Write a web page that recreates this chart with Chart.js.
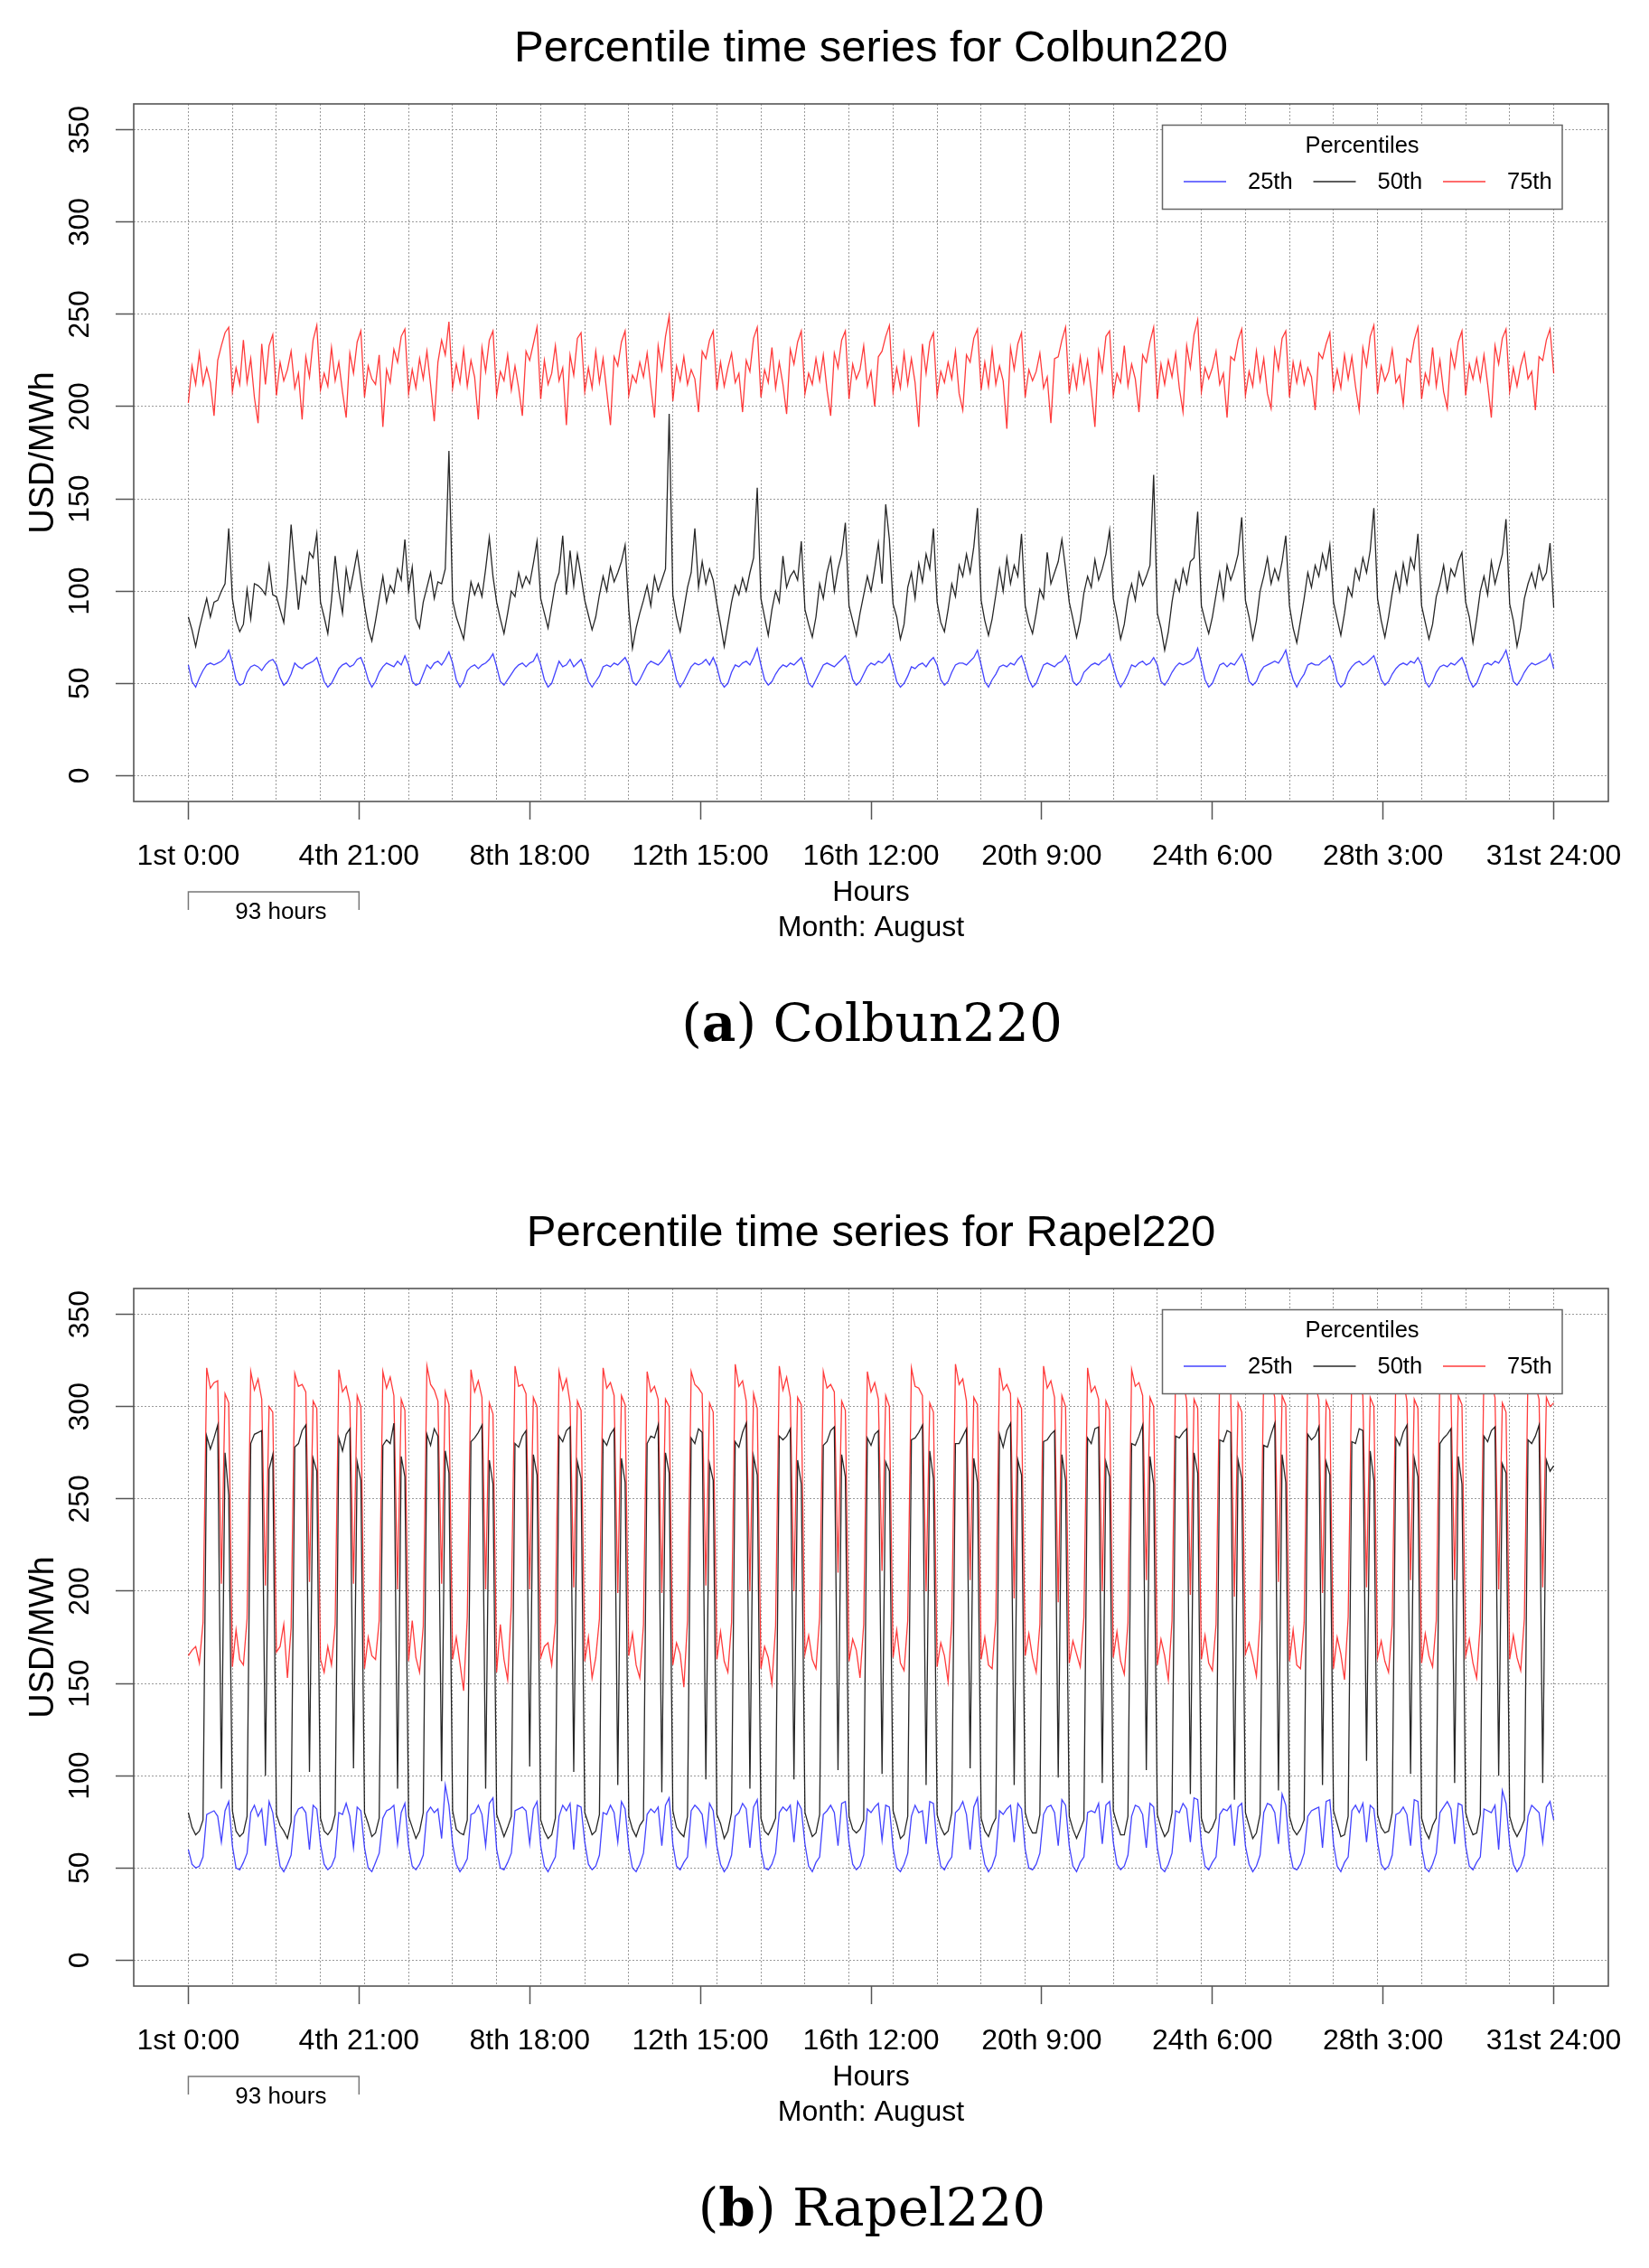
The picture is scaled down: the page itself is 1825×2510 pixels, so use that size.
<!DOCTYPE html>
<html>
<head>
<meta charset="utf-8">
<script src="https://cdn.jsdelivr.net/npm/chart.js@4.4.0/dist/chart.umd.min.js"></script>
<style>
  body { margin: 0; background: #fff; width: 1825px; height: 2510px; position: relative; overflow: hidden; }
  canvas { position: absolute; left: 0; }
  .cap { position: absolute; left: 0; width: 1930px; text-align: center; font-family: "DejaVu Serif"; font-size: 58px; line-height: 70px; color: #000; }
</style>
</head>
<body>
<canvas id="colbun" width="1825" height="1100" style="top:0px"></canvas>
<div class="cap" style="top:1097px">(<b>a</b>) Colbun220</div>
<canvas id="rapel" width="1825" height="1100" style="top:1311px"></canvas>
<div class="cap" style="top:2408px">(<b>b</b>) Rapel220</div>
<script>
// x axis: ticks every 93 hours, labels as in the original R plot
const tickHours = [0, 93, 186, 279, 372, 465, 558, 651, 744];
const tickLabels = ['1st 0:00', '4th 21:00', '8th 18:00', '12th 15:00', '16th 12:00',
  '20th 9:00', '24th 6:00', '28th 3:00', '31st 24:00'];
const yTicks = [0, 50, 100, 150, 200, 250, 300, 350];

// one value every 2 hours, one row per day (0h..22h), last value = 31st 24:00
const colbunP25 = [
  60, 51, 48, 53, 57, 60, 61, 60, 61, 62, 64, 68,
  61, 52, 49, 50, 56, 59, 60, 59, 57, 60, 62, 63,
  60, 53, 49, 51, 55, 61, 59, 58, 60, 61, 62, 64,
  58, 51, 48, 50, 54, 58, 60, 61, 59, 60, 63, 64,
  59, 52, 48, 51, 56, 59, 61, 60, 59, 62, 60, 65,
  60, 51, 49, 50, 55, 60, 58, 61, 62, 60, 63, 67,
  61, 52, 48, 51, 57, 59, 60, 58, 60, 61, 63, 66,
  59, 51, 49, 52, 55, 58, 60, 61, 59, 61, 62, 66,
  60, 52, 48, 50, 56, 62, 59, 60, 63, 59, 61, 63,
  58, 51, 48, 51, 54, 59, 60, 59, 61, 60, 62, 64,
  60, 51, 49, 52, 56, 60, 62, 61, 60, 62, 65, 68,
  61, 52, 48, 51, 55, 59, 61, 60, 61, 63, 60, 64,
  59, 51, 48, 50, 56, 60, 59, 61, 62, 60, 64, 69,
  60, 52, 49, 51, 55, 58, 60, 59, 61, 60, 62, 64,
  58, 50, 48, 52, 56, 60, 61, 60, 59, 61, 63, 65,
  60, 52, 49, 51, 55, 59, 61, 60, 62, 61, 63, 66,
  59, 51, 48, 50, 54, 59, 58, 60, 61, 59, 62, 64,
  60, 52, 49, 51, 56, 60, 61, 61, 60, 62, 64, 68,
  60, 51, 48, 52, 55, 59, 60, 59, 61, 60, 63, 65,
  59, 52, 48, 50, 55, 60, 61, 60, 59, 61, 62, 65,
  60, 51, 49, 51, 56, 58, 60, 61, 60, 62, 63, 66,
  59, 52, 48, 51, 55, 60, 59, 61, 62, 60, 61, 64,
  60, 51, 49, 52, 56, 59, 61, 60, 61, 62, 64, 69,
  61, 52, 48, 50, 55, 60, 61, 59, 61, 60, 63, 66,
  60, 51, 49, 51, 56, 59, 60, 61, 62, 61, 64, 68,
  59, 52, 48, 52, 55, 60, 61, 60, 60, 62, 63, 65,
  60, 51, 48, 50, 56, 59, 61, 62, 60, 61, 63, 65,
  59, 52, 49, 51, 55, 58, 60, 61, 60, 62, 61, 64,
  60, 51, 48, 51, 56, 59, 60, 59, 61, 60, 62, 64,
  59, 52, 48, 50, 55, 60, 61, 60, 62, 61, 64, 68,
  60, 51, 49, 52, 56, 59, 61, 60, 61, 62, 63, 66,
  58
];
const colbunP50 = [
  86, 79, 70, 80, 88, 96, 86, 94, 95, 100, 104, 134,
  96, 84, 78, 82, 101, 85, 104, 103, 101, 98, 114, 98,
  97, 90, 83, 104, 136, 112, 90, 108, 104, 121, 118, 131,
  94, 86, 77, 95, 119, 100, 88, 112, 100, 110, 121, 106,
  92, 80, 73, 84, 96, 108, 94, 103, 99, 112, 106, 128,
  100, 113, 85, 80, 94, 102, 110, 96, 105, 104, 112, 176,
  95, 86, 80, 74, 90, 105, 98, 104, 97, 112, 129, 108,
  94, 85, 77, 88, 100, 97, 110, 102, 108, 104, 115, 127,
  96, 88, 80, 92, 104, 110, 130, 98, 122, 103, 120, 108,
  95, 87, 79, 86, 98, 108, 100, 113, 105, 110, 116, 125,
  90, 69, 80, 88, 95, 103, 92, 108, 100, 106, 112, 196,
  98, 86, 78, 90, 102, 110, 134, 102, 116, 104, 112, 106,
  93, 82, 70, 82, 94, 103, 98, 107, 100, 110, 118, 156,
  96, 86, 76, 90, 100, 94, 119, 102, 108, 111, 106, 127,
  90, 82, 75, 86, 104, 96, 110, 118, 100, 112, 120, 137,
  92, 84, 76, 88, 98, 108, 100, 112, 126, 104, 147, 128,
  93, 86, 74, 82, 102, 110, 96, 115, 105, 120, 112, 134,
  94, 83, 78, 90, 104, 97, 114, 108, 120, 110, 124, 145,
  95, 84, 76, 85, 98, 112, 100, 118, 104, 114, 108, 131,
  92, 83, 77, 88, 101, 96, 121, 104, 110, 116, 128, 112,
  94, 85, 75, 84, 99, 108, 102, 117, 106, 112, 120, 133,
  96, 86, 74, 82, 96, 104, 95, 110, 103, 108, 114, 163,
  88, 80, 68, 78, 94, 106, 100, 112, 104, 116, 118, 143,
  92, 84, 77, 86, 98, 110, 96, 114, 106, 112, 120, 140,
  95, 86, 74, 84, 100, 108, 118, 104, 112, 106, 116, 130,
  92, 80, 72, 84, 96, 110, 102, 114, 108, 120, 112, 125,
  94, 85, 76, 88, 102, 97, 112, 106, 118, 110, 122, 145,
  96, 84, 75, 86, 99, 110, 100, 115, 104, 118, 112, 131,
  92, 83, 74, 82, 97, 104, 114, 100, 112, 108, 116, 121,
  94, 86, 72, 85, 100, 108, 98, 116, 104, 112, 120, 139,
  93, 84, 70, 80, 96, 104, 110, 102, 114, 106, 110, 126,
  91
];
const colbunP75 = [
  202, 222, 212, 229, 212, 221, 213, 195, 225, 233, 240, 243,
  208, 221, 212, 236, 213, 226, 205, 191, 234, 212, 233, 239,
  206, 224, 214, 220, 230, 210, 218, 193, 227, 216, 236, 244,
  209, 218, 211, 232, 214, 224, 208, 194, 229, 218, 235, 241,
  205, 222, 215, 212, 228, 189, 220, 213, 231, 224, 238, 242,
  207, 220, 210, 226, 215, 230, 212, 192, 224, 236, 228, 246,
  210, 223, 213, 231, 211, 225, 216, 193, 232, 219, 236, 241,
  206, 219, 214, 228, 209, 222, 210, 195, 230, 225, 234, 243,
  204, 225, 212, 218, 233, 214, 221, 190, 228, 217, 237, 240,
  208, 221, 210, 230, 213, 226, 208, 190, 227, 222, 235, 241,
  206, 217, 213, 224, 216, 229, 211, 194, 233, 220, 238, 249,
  203, 222, 214, 227, 212, 220, 215, 197, 230, 226, 236, 241,
  209, 224, 211, 221, 229, 213, 218, 197, 225, 219, 237, 243,
  205, 220, 213, 232, 210, 224, 212, 196, 231, 223, 235, 241,
  207, 218, 212, 226, 214, 228, 209, 195, 229, 221, 236, 241,
  204, 223, 215, 220, 233, 211, 219, 200, 227, 230, 238, 244,
  208, 221, 210, 229, 212, 226, 213, 189, 234, 218, 235, 240,
  206, 219, 213, 224, 215, 230, 207, 198, 228, 224, 237, 242,
  209, 224, 211, 231, 212, 222, 214, 188, 232, 220, 234, 240,
  205, 220, 214, 219, 229, 210, 216, 191, 226, 227, 236, 243,
  207, 222, 210, 227, 213, 225, 209, 189, 230, 219, 238, 241,
  206, 218, 213, 233, 211, 223, 215, 197, 228, 224, 235, 243,
  204, 223, 212, 225, 216, 229, 210, 197, 233, 221, 239, 247,
  208, 221, 215, 221, 230, 212, 218, 194, 227, 225, 236, 242,
  206, 219, 211, 230, 214, 226, 207, 199, 231, 220, 237, 241,
  205, 224, 213, 224, 212, 221, 216, 198, 229, 226, 234, 240,
  209, 220, 210, 228, 215, 227, 211, 198, 232, 222, 238, 244,
  207, 222, 214, 219, 231, 213, 217, 201, 226, 224, 236, 243,
  204, 218, 212, 232, 211, 225, 208, 199, 230, 221, 235, 241,
  206, 223, 215, 226, 214, 228, 212, 194, 233, 223, 237, 242,
  208, 221, 211, 222, 229, 215, 219, 198, 227, 225, 236, 242,
  218
];
const rapelP25 = [
  60, 52, 50, 51, 56, 79, 80, 81, 78, 64, 81, 86,
  62, 50, 49, 53, 58, 80, 84, 78, 82, 62, 86, 80,
  64, 51, 48, 52, 57, 78, 82, 83, 80, 60, 84, 82,
  63, 52, 49, 51, 56, 80, 79, 85, 78, 61, 83, 81,
  61, 50, 48, 53, 58, 77, 81, 82, 84, 63, 80, 85,
  62, 51, 49, 52, 57, 80, 83, 80, 82, 66, 95, 84,
  63, 52, 48, 51, 55, 79, 80, 84, 79, 62, 85, 88,
  60, 50, 49, 53, 58, 81, 82, 83, 81, 63, 82, 86,
  62, 51, 48, 52, 56, 78, 84, 81, 85, 60, 84, 83,
  64, 52, 49, 51, 57, 80, 79, 84, 80, 64, 86, 82,
  61, 50, 48, 52, 58, 79, 82, 80, 83, 62, 84, 88,
  63, 51, 49, 53, 56, 81, 84, 82, 79, 63, 85, 81,
  62, 52, 48, 51, 57, 78, 80, 85, 82, 61, 83, 87,
  60, 50, 49, 52, 58, 80, 83, 81, 84, 64, 86, 82,
  63, 51, 48, 53, 56, 79, 81, 84, 80, 62, 85, 86,
  64, 52, 49, 51, 57, 82, 80, 83, 85, 65, 84, 83,
  61, 50, 48, 52, 58, 78, 84, 80, 81, 63, 86, 85,
  62, 51, 49, 53, 56, 80, 82, 86, 79, 60, 83, 88,
  63, 52, 48, 51, 57, 81, 79, 82, 84, 64, 85, 82,
  60, 50, 49, 52, 58, 79, 83, 84, 80, 62, 87, 84,
  62, 51, 48, 53, 56, 80, 81, 80, 85, 63, 84, 86,
  64, 52, 49, 51, 57, 78, 84, 83, 79, 61, 85, 83,
  61, 50, 48, 52, 58, 81, 80, 85, 82, 64, 88, 87,
  63, 51, 49, 53, 56, 79, 82, 81, 84, 62, 83, 85,
  62, 52, 48, 51, 57, 80, 85, 84, 80, 63, 90, 84,
  60, 50, 49, 52, 58, 78, 81, 82, 83, 61, 86, 87,
  63, 51, 48, 53, 56, 81, 84, 80, 85, 64, 84, 82,
  64, 52, 49, 51, 57, 79, 80, 83, 79, 62, 87, 86,
  61, 50, 48, 52, 58, 80, 83, 86, 82, 63, 85, 84,
  62, 51, 49, 53, 56, 82, 81, 80, 84, 60, 92, 85,
  63, 52, 48, 51, 57, 78, 84, 82, 80, 64, 83, 86,
  76
];
const rapelP50 = [
  80, 72, 68, 70, 76, 284, 277, 283, 290, 93, 275, 252,
  81, 70, 67, 69, 78, 280, 285, 286, 287, 100, 266, 274,
  79, 73, 70, 66, 75, 278, 280, 287, 290, 102, 272, 265,
  77, 70, 68, 71, 79, 283, 276, 285, 288, 104, 270, 260,
  80, 74, 67, 69, 77, 279, 282, 280, 291, 93, 273, 262,
  78, 72, 66, 70, 80, 285, 279, 288, 284, 97, 276, 264,
  81, 71, 69, 68, 76, 281, 283, 286, 290, 93, 271, 258,
  79, 73, 67, 72, 78, 280, 278, 284, 287, 105, 274, 263,
  76, 70, 66, 68, 77, 284, 281, 287, 289, 102, 270, 261,
  80, 74, 68, 70, 79, 282, 279, 285, 288, 95, 272, 259,
  78, 71, 67, 73, 76, 280, 284, 283, 290, 91, 275, 264,
  81, 72, 69, 67, 78, 283, 280, 288, 286, 98, 269, 260,
  79, 74, 66, 70, 80, 281, 278, 286, 291, 93, 273, 263,
  77, 70, 68, 72, 77, 284, 282, 284, 288, 98, 271, 258,
  80, 73, 67, 69, 79, 279, 281, 287, 289, 103, 274, 262,
  78, 71, 69, 71, 76, 283, 279, 285, 287, 101, 270, 265,
  81, 74, 66, 68, 78, 282, 283, 286, 290, 95, 276, 261,
  79, 72, 68, 70, 80, 280, 280, 284, 288, 104, 272, 259,
  77, 70, 67, 73, 77, 285, 278, 287, 291, 95, 271, 263,
  80, 73, 69, 69, 79, 281, 282, 285, 287, 99, 274, 260,
  78, 71, 66, 71, 76, 283, 280, 288, 289, 96, 270, 262,
  81, 74, 68, 68, 78, 280, 279, 284, 290, 103, 273, 258,
  79, 72, 67, 70, 80, 284, 283, 286, 288, 90, 275, 264,
  77, 70, 69, 72, 77, 282, 281, 287, 286, 87, 271, 261,
  80, 73, 66, 69, 79, 279, 278, 285, 291, 92, 274, 259,
  78, 71, 68, 71, 76, 285, 282, 284, 289, 95, 270, 263,
  81, 74, 67, 68, 78, 281, 280, 288, 287, 108, 276, 260,
  79, 72, 69, 70, 80, 283, 279, 286, 290, 101, 272, 262,
  77, 70, 66, 73, 77, 280, 283, 285, 288, 96, 273, 258,
  80, 73, 68, 69, 79, 284, 281, 287, 289, 100, 269, 264,
  78, 71, 67, 71, 76, 282, 280, 284, 290, 96, 271, 265,
  268
];
const rapelP75 = [
  165, 168, 170, 161, 183, 321, 310, 313, 314, 204, 307, 302,
  159, 179, 163, 160, 185, 319, 309, 315, 304, 203, 300, 297,
  167, 170, 182, 153, 180, 318, 311, 312, 308, 205, 303, 299,
  163, 156, 170, 160, 182, 320, 308, 311, 302, 204, 306, 300,
  158, 175, 165, 163, 184, 319, 310, 316, 306, 201, 304, 298,
  162, 184, 164, 156, 181, 322, 312, 309, 303, 204, 308, 301,
  163, 175, 161, 146, 186, 320, 308, 314, 305, 201, 302, 296,
  156, 182, 163, 152, 192, 322, 311, 312, 307, 201, 305, 300,
  164, 170, 172, 160, 183, 319, 309, 315, 302, 202, 303, 298,
  162, 175, 153, 164, 185, 321, 310, 313, 306, 199, 306, 301,
  165, 177, 160, 153, 182, 319, 308, 311, 304, 199, 304, 300,
  160, 172, 166, 148, 184, 319, 312, 310, 307, 203, 302, 297,
  163, 178, 162, 156, 183, 323, 311, 314, 303, 200, 307, 299,
  158, 170, 164, 150, 181, 322, 309, 316, 305, 200, 305, 301,
  166, 176, 163, 158, 186, 319, 310, 312, 308, 210, 303, 298,
  162, 174, 168, 153, 182, 319, 308, 313, 304, 211, 306, 300,
  164, 179, 161, 157, 184, 321, 311, 310, 306, 200, 302, 297,
  159, 172, 165, 151, 183, 323, 312, 315, 303, 206, 305, 301,
  163, 175, 160, 158, 185, 321, 309, 312, 307, 196, 304, 299,
  165, 177, 164, 156, 182, 322, 310, 314, 305, 194, 306, 300,
  161, 173, 166, 159, 186, 321, 308, 311, 304, 200, 303, 298,
  164, 178, 162, 155, 183, 320, 311, 313, 306, 206, 305, 300,
  160, 174, 165, 152, 184, 322, 309, 315, 303, 198, 304, 299,
  163, 176, 161, 157, 182, 321, 312, 310, 307, 197, 302, 297,
  166, 172, 164, 154, 185, 320, 310, 314, 305, 205, 306, 301,
  162, 179, 160, 158, 183, 321, 308, 312, 304, 199, 303, 298,
  158, 175, 166, 152, 186, 322, 311, 313, 306, 202, 305, 300,
  164, 173, 162, 156, 182, 320, 309, 315, 303, 206, 304, 299,
  161, 177, 165, 159, 184, 321, 312, 311, 307, 206, 306, 301,
  165, 174, 161, 153, 183, 322, 310, 313, 305, 201, 302, 297,
  163, 176, 164, 157, 185, 320, 309, 312, 304, 202, 305, 300,
  302
];

const BLUE = 'rgba(20, 20, 255, 0.8)';
const BLACK = 'rgba(0, 0, 0, 0.85)';
const RED = 'rgba(255, 10, 10, 0.8)';
const GRID = '#9a9a9a';
const FONT = '"Liberation Sans", Arial, sans-serif';

// hour of each sample (every 2 hours)
const hours = colbunP25.map((v, i) => i * 2);
const dayLines = [];
for (let h = 0; h <= 744; h += 24) dayLines.push(h);

const X_MIN = -29.76, X_MAX = 773.76; // R pads the range by 4%
const Y_MIN = -14, Y_MAX = 364;

// draws what R adds around the plot: title, rotated y labels, legend, box, bracket
const rDecor = {
  id: 'rDecor',
  afterDatasetsDraw(chart) {
    const ctx = chart.ctx;
    const ca = chart.chartArea;
    // legend box (opaque, over the lines)
    const L = ca.right - 493.5, T = ca.top + 23.5;
    ctx.save();
    ctx.fillStyle = '#fff';
    ctx.fillRect(L, T, 442.5, 93);
    ctx.strokeStyle = '#666';
    ctx.lineWidth = 1.5;
    ctx.strokeRect(L, T, 442.5, 93);
    ctx.fillStyle = '#000';
    ctx.font = '25.5px ' + FONT;
    ctx.textAlign = 'center';
    ctx.textBaseline = 'middle';
    ctx.fillText('Percentiles', L + 221, T + 23);
    const entries = [['25th', BLUE], ['50th', BLACK], ['75th', RED]];
    entries.forEach(([name, col], i) => {
      const x0 = L + 23.5 + i * 143.5;
      ctx.strokeStyle = col;
      ctx.lineWidth = 1.5;
      ctx.beginPath();
      ctx.moveTo(x0, T + 62.5);
      ctx.lineTo(x0 + 47, T + 62.5);
      ctx.stroke();
      ctx.textAlign = 'left';
      ctx.fillText(name, x0 + 71, T + 63);
    });
    ctx.restore();
  },
  afterDraw(chart) {
    const ctx = chart.ctx;
    const ca = chart.chartArea;
    const xs = chart.scales.x, ys = chart.scales.y;
    const midX = (ca.left + ca.right) / 2;
    ctx.save();
    ctx.fillStyle = '#000';
    ctx.textBaseline = 'middle';
    ctx.textAlign = 'center';
    // title
    ctx.font = '49px ' + FONT;
    ctx.fillText(chart.options.plugins.rTitle, midX, 54);
    // y tick labels, vertical as in R
    ctx.font = '32px ' + FONT;
    yTicks.forEach(v => {
      ctx.save();
      ctx.translate(ca.left - 59, ys.getPixelForValue(v));
      ctx.rotate(-Math.PI / 2);
      ctx.fillText(String(v), 0, 0);
      ctx.restore();
    });
    // y title
    ctx.save();
    ctx.font = '38px ' + FONT;
    ctx.translate(48.5, (ca.top + ca.bottom) / 2);
    ctx.rotate(-Math.PI / 2);
    ctx.fillText('USD/MWh', 0, 0);
    ctx.restore();
    // x titles
    ctx.font = '32px ' + FONT;
    ctx.fillText('Hours', midX, ca.bottom + 101);
    ctx.fillText('Month: August', midX, ca.bottom + 140);
    // 93 hours bracket
    const b0 = xs.getPixelForValue(tickHours[0]);
    const b1 = xs.getPixelForValue(tickHours[1]);
    const by = ca.bottom + 100;
    ctx.strokeStyle = '#777';
    ctx.lineWidth = 1.5;
    ctx.beginPath();
    ctx.moveTo(b0, by + 20);
    ctx.lineTo(b0, by);
    ctx.lineTo(b1, by);
    ctx.lineTo(b1, by + 20);
    ctx.stroke();
    ctx.font = '26px ' + FONT;
    ctx.fillText('93 hours', (b0 + b1) / 2 + 8, by + 23);
    // plot box
    ctx.strokeStyle = '#555';
    ctx.lineWidth = 1.6;
    ctx.strokeRect(ca.left, ca.top, ca.right - ca.left, ca.bottom - ca.top);
    ctx.restore();
  }
};

function makeChart(id, title, p25, p50, p75) {
  const toPts = arr => arr.map((v, i) => ({ x: hours[i], y: v }));
  return new Chart(document.getElementById(id), {
    type: 'line',
    data: {
      datasets: [
        { label: '25th', data: toPts(p25), borderColor: BLUE },
        { label: '50th', data: toPts(p50), borderColor: BLACK },
        { label: '75th', data: toPts(p75), borderColor: RED }
      ]
    },
    options: {
      responsive: false,
      animation: false,
      layout: { padding: { top: 115, right: 45, left: 0, bottom: 0 } },
      elements: {
        point: { radius: 0 },
        line: { borderWidth: 1.3, tension: 0, fill: false }
      },
      plugins: {
        legend: { display: false },
        title: { display: false },
        tooltip: { enabled: false },
        rTitle: title
      },
      scales: {
        x: {
          type: 'linear',
          position: 'bottom',
          min: X_MIN,
          max: X_MAX,
          afterBuildTicks: s => { s.ticks = tickHours.map(v => ({ value: v })); },
          afterFit: s => { s.height = 213; },
          ticks: {
            autoSkip: false,
            maxRotation: 0,
            minRotation: 0,
            padding: 22,
            color: '#000',
            font: { family: FONT, size: 32 },
            callback: (v, i) => tickLabels[i]
          },
          grid: { drawOnChartArea: false, drawTicks: true, tickLength: 20, tickColor: '#555', tickWidth: 1.5 },
          border: { display: false }
        },
        days: {
          type: 'linear',
          position: 'top',
          min: X_MIN,
          max: X_MAX,
          afterBuildTicks: s => { s.ticks = dayLines.map(v => ({ value: v })); },
          afterFit: s => { s.height = 0; },
          ticks: { display: false },
          grid: { color: GRID, lineWidth: 1, drawTicks: false },
          border: { display: false, dash: [2, 2] }
        },
        y: {
          min: Y_MIN,
          max: Y_MAX,
          afterBuildTicks: s => { s.ticks = yTicks.map(v => ({ value: v })); },
          afterFit: s => { s.width = 148; },
          ticks: { display: false },
          grid: {
            color: GRID, lineWidth: 1,
            drawTicks: true, tickLength: 20, tickColor: '#555', tickWidth: 1.5, tickBorderDash: []
          },
          border: { display: false, dash: [2, 2] }
        }
      }
    },
    plugins: [rDecor]
  });
}

makeChart('colbun', 'Percentile time series for Colbun220', colbunP25, colbunP50, colbunP75);
makeChart('rapel', 'Percentile time series for Rapel220', rapelP25, rapelP50, rapelP75);
</script>
</body>
</html>
